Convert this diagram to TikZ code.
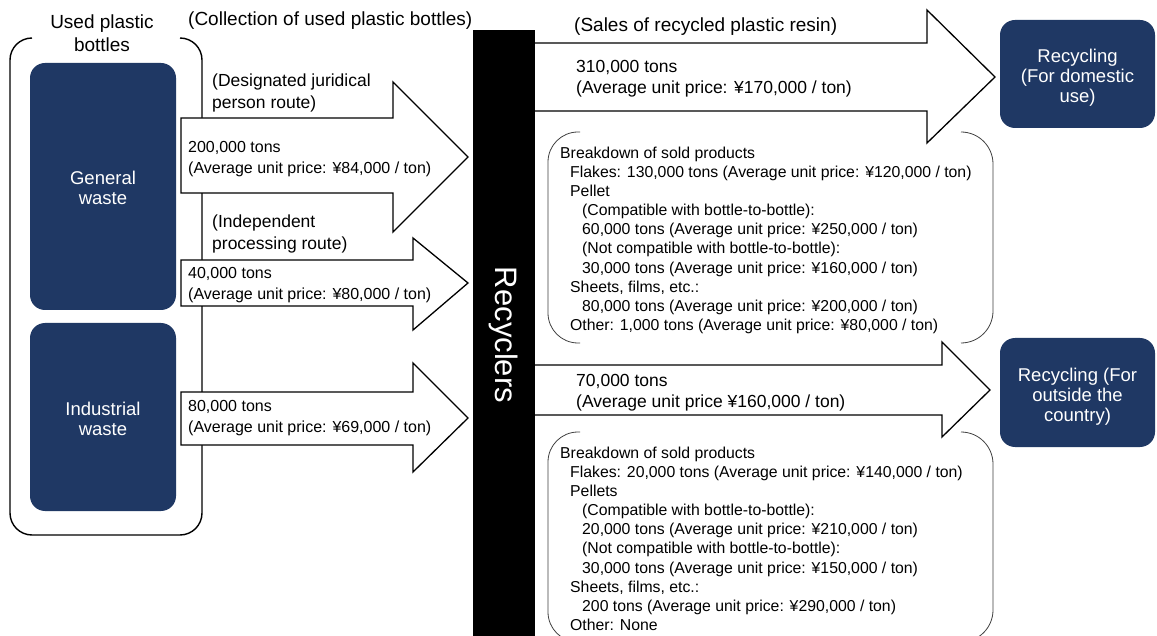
\documentclass[tikz,border=0pt]{standalone}
\usepackage{fontspec}
\setmainfont{Liberation Sans}
\definecolor{navy}{RGB}{31,56,100}
\begin{document}
\begin{tikzpicture}[x=1pt,y=-1pt,
  bluebox/.style={fill=navy, draw=none, rounded corners=15pt, inner sep=0pt},
  boxtext/.style={text=white, align=center, font=\fontsize{18.5}{20}\selectfont, inner sep=0pt},
  bigarrow/.style={draw=black, fill=white, line width=1.3pt, line join=miter},
  hdr/.style={font=\fontsize{19}{23}\selectfont, inner sep=0pt},
  route/.style={font=\fontsize{17.5}{22}\selectfont, inner sep=0pt, align=left, anchor=west},
  lprice/.style={font=\fontsize{16}{21}\selectfont, inner sep=0pt, align=left, anchor=west},
  rprice/.style={font=\fontsize{17.5}{21}\selectfont, inner sep=0pt, align=left, anchor=west},
  brk/.style={font=\fontsize{15.8}{19.15}\selectfont, inner sep=0pt, align=left, anchor=north west},
  paren/.style={draw=black!75, line width=0.8pt},
]
\useasboundingbox (0,0) rectangle (1157,636);
\fill[white] (0,0) rectangle (1157,636);

% bracket around used plastic bottles
\draw[line width=1.4pt, rounded corners=22pt] (32,38) -- (10,38) -- (10,535) -- (202,535) -- (202,38) -- (180,38);

% blue boxes
\node[bluebox, minimum width=146pt, minimum height=247pt] (gen) at (103,186.5) {};
\node[boxtext] (gent) at (103,188) {General\\waste};
\node[bluebox, minimum width=146pt, minimum height=188pt] (ind) at (103,417) {};
\node[boxtext] (indt) at (103,419) {Industrial\\waste};
\node[bluebox, minimum width=155pt, minimum height=108pt] (dom) at (1077.5,74) {};
\node[boxtext] (domt) at (1077.5,77.5) {Recycling\\(For domestic\\use)};
\node[bluebox, minimum width=155pt, minimum height=109pt] (out) at (1077.5,392.5) {};
\node[boxtext] (outt) at (1077.5,397) {Recycling (For\\outside the\\country)};

% left arrows
\draw[bigarrow] (181,118) -- (393,118) -- (393,82) -- (468,157) -- (393,232) -- (393,193) -- (181,193) -- cycle;
\draw[bigarrow] (181,260) -- (413,260) -- (413,238) -- (468,283) -- (413,330) -- (413,306) -- (181,306) -- cycle;
\draw[bigarrow] (181,392) -- (413,392) -- (413,363) -- (468,418) -- (413,472) -- (413,445) -- (181,445) -- cycle;

% right arrows
\draw[bigarrow] (520,43) -- (927,43) -- (927,10) -- (995,77) -- (927,143) -- (927,111) -- (520,111) -- cycle;
\draw[bigarrow] (520,365) -- (942,365) -- (942,342) -- (990,390) -- (942,437) -- (942,415) -- (520,415) -- cycle;

% recyclers bar
\fill[black] (473,30) rectangle (535,640);
\node[text=white, rotate=-90, font=\fontsize{31}{31}\selectfont, inner sep=0pt] (rec) at (504,335) {Recyclers};

% breakdown parentheses
\draw[paren, rounded corners=30pt] (580,132) -- (548,132) -- (548,343) -- (580,343);
\draw[paren, rounded corners=32pt] (961,132) -- (993,132) -- (993,343) -- (961,343);
\draw[paren, rounded corners=30pt] (580,432) -- (548,432) -- (548,642) -- (580,642);
\draw[paren, rounded corners=32pt] (961,432) -- (993,432) -- (993,642) -- (961,642);

% headers
\node[hdr, align=center] (upb) at (102,33) {Used plastic\\bottles};
\node[hdr, anchor=west] (col) at (188,21) {(Collection of used plastic bottles)};
\node[hdr, anchor=west] (sal) at (574,27) {(Sales of recycled plastic resin)};

% route labels
\node[route] (djr) at (212,93) {(Designated juridical\\person route)};
\node[route] (ipr) at (212,234) {(Independent\\processing route)};

% left prices
\node[lprice] (p1) at (188,159) {200,000 tons\\(Average unit price: ¥84,000 / ton)};
\node[lprice] (p2) at (188,285) {40,000 tons\\(Average unit price: ¥80,000 / ton)};
\node[lprice] (p3) at (188,418.5) {80,000 tons\\(Average unit price: ¥69,000 / ton)};

% right prices
\node[rprice] (p4) at (576,79) {310,000 tons\\(Average unit price: ¥170,000 / ton)};
\node[rprice] (p5) at (576,392.5) {70,000 tons\\(Average unit price ¥160,000 / ton)};

% breakdowns
\node[brk] (bd1) at (560,146.5) {Breakdown of sold products\\
\hspace*{10pt}Flakes: 130,000 tons (Average unit price: ¥120,000 / ton)\\
\hspace*{10pt}Pellet\\
\hspace*{22pt}(Compatible with bottle-to-bottle):\\
\hspace*{22pt}60,000 tons (Average unit price: ¥250,000 / ton)\\
\hspace*{22pt}(Not compatible with bottle-to-bottle):\\
\hspace*{22pt}30,000 tons (Average unit price: ¥160,000 / ton)\\
\hspace*{10pt}Sheets, films, etc.:\\
\hspace*{22pt}80,000 tons (Average unit price: ¥200,000 / ton)\\
\hspace*{10pt}Other: 1,000 tons (Average unit price: ¥80,000 / ton)};

\node[brk] (bd2) at (560,446.5) {Breakdown of sold products\\
\hspace*{10pt}Flakes: 20,000 tons (Average unit price: ¥140,000 / ton)\\
\hspace*{10pt}Pellets\\
\hspace*{22pt}(Compatible with bottle-to-bottle):\\
\hspace*{22pt}20,000 tons (Average unit price: ¥210,000 / ton)\\
\hspace*{22pt}(Not compatible with bottle-to-bottle):\\
\hspace*{22pt}30,000 tons (Average unit price: ¥150,000 / ton)\\
\hspace*{10pt}Sheets, films, etc.:\\
\hspace*{22pt}200 tons (Average unit price: ¥290,000 / ton)\\
\hspace*{10pt}Other: None};
\end{tikzpicture}
\end{document}
